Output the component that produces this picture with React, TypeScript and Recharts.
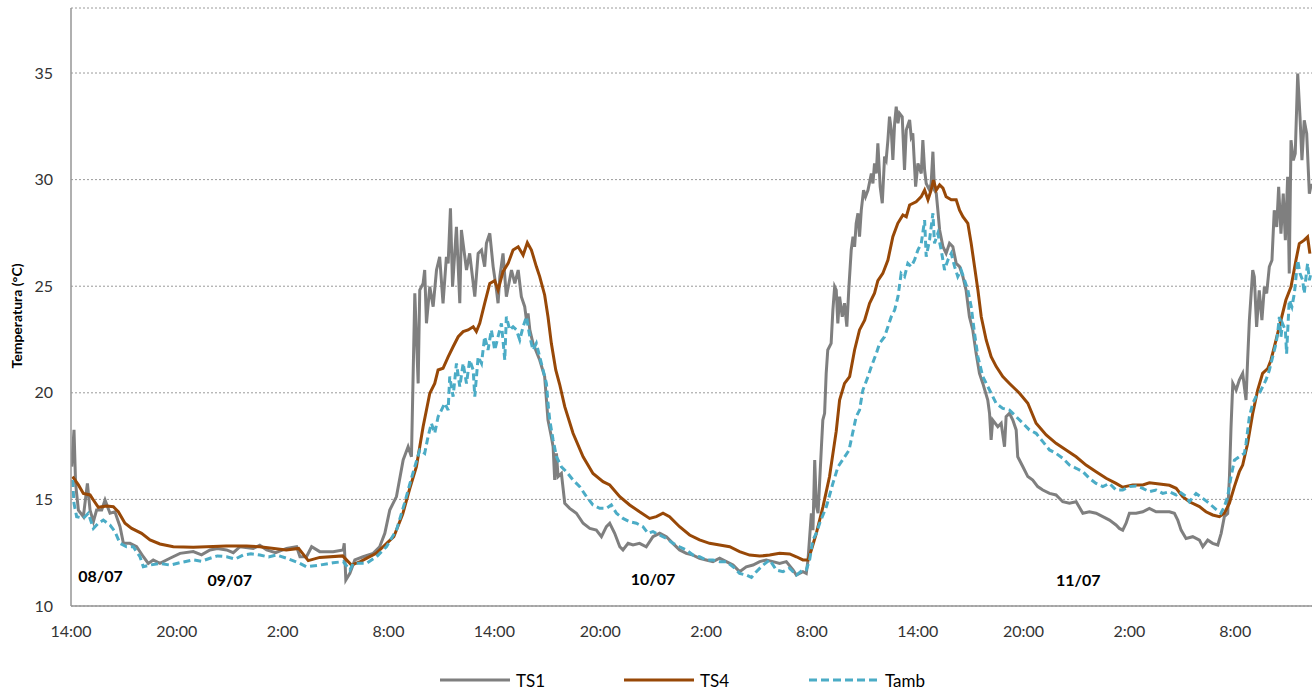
import { LineChart, Line, XAxis, YAxis, CartesianGrid, ReferenceDot } from 'recharts';

// hours counted from 14:00 on 08/07
const ts1Hours = [
  0.04, 0.17, 0.26, 0.42, 0.7, 0.93, 1.08, 1.27, 1.45, 1.74, 1.93, 2.21, 2.49, 2.78, 2.97, 3.34, 3.72, 4.1, 4.38, 4.66,
  5.04, 5.61, 6.18, 6.93, 7.4, 7.88, 8.3, 8.82, 9.2, 9.58, 10.33, 10.7, 11.09, 11.6, 12.22, 12.79, 12.98, 13.35, 13.64, 14.1,
  14.86, 15.43, 15.49, 15.58, 15.81, 16.09, 16.56, 17.13, 17.5, 17.79, 18.07, 18.45, 18.83, 19.11, 19.3, 19.49, 19.68, 19.77, 19.96, 20.05,
  20.15, 20.34, 20.53, 20.72, 20.9, 21.09, 21.28, 21.38, 21.51, 21.63, 21.85, 22.04, 22.13, 22.42, 22.6, 22.89, 23.08, 23.27, 23.45, 23.55,
  23.74, 23.93, 24.12, 24.21, 24.31, 24.49, 24.68, 24.97, 25.16, 25.35, 25.53, 25.72, 25.82, 25.91, 26.01, 26.19, 26.57, 26.85, 27.04, 27.23,
  27.33, 27.42, 27.52, 27.61, 27.8, 27.99, 28.27, 28.65, 29.03, 29.41, 29.78, 30.07, 30.35, 30.54, 30.82, 31.11, 31.29, 31.58, 31.86, 32.23,
  32.61, 32.99, 33.37, 33.75, 34.12, 34.5, 34.88, 35.26, 35.63, 36.01, 36.39, 36.77, 37.15, 37.53, 37.9, 38.28, 38.66, 39.04, 39.41, 39.79,
  40.17, 40.55, 40.93, 41.12, 41.49, 41.68, 41.78, 41.97, 42.06, 42.16, 42.25, 42.35, 42.54, 42.62, 42.72, 42.81, 42.9, 43.09, 43.19, 43.29,
  43.38, 43.47, 43.57, 43.72, 43.85, 43.98, 44.1, 44.23, 44.33, 44.42, 44.51, 44.61, 44.7, 44.8, 44.93, 45.04, 45.18, 45.37, 45.46, 45.55,
  45.65, 45.74, 45.87, 45.99, 46.12, 46.21, 46.31, 46.4, 46.5, 46.59, 46.69, 46.78, 46.88, 46.97, 47.12, 47.25, 47.35, 47.54, 47.63, 47.72,
  47.88, 48.01, 48.2, 48.29, 48.39, 48.48, 48.67, 48.76, 48.86, 48.95, 49.05, 49.14, 49.24, 49.43, 49.61, 49.8, 49.99, 50.18, 50.37, 50.56,
  50.74, 50.93, 51.12, 51.31, 51.5, 51.69, 51.97, 52.07, 52.16, 52.25, 52.54, 52.73, 52.92, 53.01, 53.2, 53.39, 53.58, 53.67, 53.96, 54.24,
  54.52, 54.8, 55.09, 55.47, 55.84, 56.22, 56.6, 56.98, 57.36, 57.73, 58.11, 58.49, 58.87, 59.24, 59.43, 59.62, 59.81, 60.0, 60.38, 60.76,
  61.13, 61.51, 61.89, 62.27, 62.55, 62.74, 62.93, 63.21, 63.59, 63.97, 64.16, 64.44, 64.72, 65.01, 65.2, 65.38, 65.57, 65.67, 65.76, 65.86,
  66.05, 66.23, 66.42, 66.61, 66.7, 66.8, 66.99, 67.08, 67.21, 67.36, 67.51, 67.65, 67.78, 67.93, 68.08, 68.21, 68.35, 68.46, 68.59, 68.72,
  68.84, 68.97, 69.06, 69.16, 69.29, 69.4, 69.54, 69.67, 69.78, 69.91, 70.05, 70.2, 70.31,
];
const ts1Temp = [
  16.54, 18.26, 15.75, 14.5, 14.19, 15.75, 14.5, 13.96, 14.5, 14.5, 14.97, 14.35, 14.42, 13.72, 12.94, 12.94, 12.78, 12.31, 12.0, 12.16,
  12.0, 12.24, 12.47, 12.55, 12.4, 12.63, 12.7, 12.63, 12.5, 12.78, 12.7, 12.85, 12.63, 12.5, 12.7, 12.78, 12.31, 12.31, 12.78, 12.55,
  12.55, 12.63, 12.94, 11.22, 11.53, 12.16, 12.31, 12.47, 12.78, 13.41, 14.5, 15.13, 16.85, 17.47, 17.0, 24.67, 20.44, 24.82, 25.13, 25.76,
  23.26, 24.98, 24.04, 25.76, 26.38, 24.2, 26.38, 26.07, 28.65, 24.98, 27.79, 24.2, 27.64, 25.76, 26.54, 24.51, 26.54, 26.7, 25.92, 27.01,
  27.48, 25.92, 24.82, 24.2, 25.45, 26.54, 24.51, 25.76, 25.13, 25.76, 24.51, 24.04, 23.41, 23.73, 22.95, 22.32, 21.54, 20.76, 18.72, 17.94,
  17.47, 15.91, 17.16, 16.07, 16.22, 14.82, 14.58, 14.35, 13.88, 13.64, 13.56, 13.25, 13.72, 13.88, 13.41, 12.78, 12.63, 12.94, 12.86, 12.94,
  12.78, 13.25, 13.41, 13.25, 12.94, 12.63, 12.47, 12.39, 12.24, 12.16, 12.08, 12.24, 12.08, 11.92, 11.61, 11.84, 11.92, 12.08, 12.16, 12.08,
  12.0, 12.08, 11.69, 11.45, 11.61, 11.53, 12.16, 14.35, 13.56, 16.85, 14.7, 14.35, 17.47, 18.72, 19.04, 20.91, 22.01, 22.32, 23.88, 24.98,
  24.82, 23.26, 24.51, 23.57, 24.2, 23.1, 24.98, 26.7, 27.32, 26.85, 27.95, 28.42, 27.32, 28.57, 29.51, 29.2, 29.51, 30.29, 29.82, 30.76,
  30.29, 31.7, 29.67, 28.89, 31.08, 30.92, 31.86, 32.95, 32.33, 30.92, 32.64, 33.42, 32.64, 33.11, 32.95, 30.45, 32.33, 32.8, 32.01, 32.17,
  29.67, 30.76, 30.29, 31.86, 30.45, 29.82, 29.51, 29.82, 31.31, 29.51, 29.36, 28.57, 27.64, 26.85, 26.54, 27.01, 26.85, 26.07, 25.92, 25.45,
  24.82, 23.57, 22.95, 21.85, 20.91, 20.44, 19.66, 19.04, 17.79, 18.72, 18.41, 18.57, 17.47, 18.88, 19.04, 18.72, 18.26, 17.0, 16.53, 16.07,
  15.91, 15.6, 15.44, 15.28, 15.21, 14.89, 14.82, 14.89, 14.35, 14.42, 14.35, 14.19, 14.03, 13.8, 13.64, 13.56, 13.88, 14.35, 14.35, 14.42,
  14.58, 14.42, 14.42, 14.42, 14.35, 14.03, 13.56, 13.17, 13.25, 13.09, 12.78, 13.09, 12.94, 12.86, 13.41, 14.19, 14.34, 16.06, 18.4, 20.44,
  20.13, 20.6, 20.91, 19.66, 21.53, 23.41, 25.75, 25.44, 23.09, 24.81, 23.41, 24.97, 24.66, 25.91, 26.22, 28.56, 27.78, 29.66, 27.47, 29.34,
  27.16, 30.13, 25.6, 31.85, 30.91, 31.22, 34.97, 32.94, 30.91, 32.78, 32.16, 29.34, 29.81,
];

const ts4Hours = [
  0.09, 0.42, 0.7, 1.08, 1.27, 1.55, 2.02, 2.4, 2.68, 3.06, 3.44, 4.0, 4.48, 5.04, 5.8, 6.93, 8.8, 9.95, 10.7, 12.2,
  12.9, 13.45, 14.1, 15.4, 15.9, 16.4, 17.3, 18.3, 18.8, 19.2, 19.58, 19.77, 19.96, 20.15, 20.34, 20.62, 20.81, 21.09, 21.38, 21.66,
  21.95, 22.23, 22.51, 22.8, 22.98, 23.17, 23.45, 23.74, 24.02, 24.21, 24.49, 24.78, 25.06, 25.35, 25.63, 25.87, 26.1, 26.38, 26.57, 26.85,
  27.04, 27.23, 27.48, 27.7, 27.99, 28.46, 29.03, 29.59, 30.16, 30.54, 31.11, 31.67, 32.23, 32.8, 33.18, 33.56, 33.93, 34.5, 35.07, 35.63,
  36.2, 36.77, 37.34, 37.9, 38.47, 39.04, 39.61, 40.17, 40.74, 41.12, 41.49, 41.78, 41.97, 42.25, 42.63, 43.0, 43.38, 43.57, 43.85, 44.14,
  44.42, 44.7, 44.99, 45.27, 45.55, 45.74, 46.02, 46.31, 46.59, 46.87, 47.16, 47.35, 47.54, 47.91, 48.2, 48.39, 48.58, 48.76, 48.89, 49.05,
  49.24, 49.43, 49.61, 49.9, 50.18, 50.37, 50.56, 50.84, 51.03, 51.22, 51.41, 51.6, 51.88, 52.16, 52.45, 52.82, 53.2, 53.77, 54.24, 54.71,
  55.28, 55.84, 56.41, 56.98, 57.54, 58.11, 58.68, 59.24, 59.62, 60.19, 60.76, 61.13, 61.7, 62.27, 62.65, 63.02, 63.4, 63.97, 64.34, 64.72,
  65.1, 65.38, 65.67, 65.95, 66.23, 66.42, 66.7, 66.99, 67.27, 67.55, 67.84, 68.02, 68.31, 68.59, 68.87, 69.16, 69.44, 69.63, 69.91, 70.1,
  70.23,
];
const ts4Temp = [
  16.07, 15.68, 15.28, 15.21, 14.97, 14.63, 14.69, 14.66, 14.42, 13.88, 13.64, 13.41, 13.1, 12.91, 12.78, 12.75, 12.81, 12.81, 12.78, 12.63,
  12.7, 12.13, 12.28, 12.35, 11.92, 12.08, 12.47, 13.25, 14.3, 15.5, 16.54, 17.47, 18.41, 19.19, 19.98, 20.44, 21.07, 21.15, 21.69, 22.16,
  22.63, 22.87, 22.95, 23.1, 22.87, 23.26, 24.2, 25.13, 25.26, 24.82, 25.68, 26.07, 26.7, 26.85, 26.46, 27.04, 26.7, 25.92, 25.45, 24.59,
  23.57, 22.32, 21.07, 20.4, 19.35, 18.1, 17.0, 16.22, 15.83, 15.68, 15.13, 14.74, 14.42, 14.11, 14.19, 14.35, 14.19, 13.72, 13.33, 13.1,
  12.94, 12.86, 12.78, 12.55, 12.39, 12.34, 12.39, 12.47, 12.44, 12.31, 12.16, 12.16, 12.63, 13.41, 14.66, 16.07, 18.2, 19.66, 20.44, 20.76,
  22.01, 22.95, 23.41, 24.2, 24.67, 25.26, 25.6, 26.23, 27.32, 27.95, 28.34, 28.26, 28.81, 28.96, 29.2, 29.51, 29.05, 29.51, 29.98, 29.51,
  29.75, 29.6, 29.2, 29.05, 29.05, 28.57, 28.26, 27.95, 27.01, 25.92, 24.82, 23.57, 22.48, 21.69, 21.23, 20.76, 20.44, 19.98, 19.51, 18.57,
  18.02, 17.63, 17.32, 17.0, 16.61, 16.3, 15.99, 15.75, 15.57, 15.68, 15.68, 15.78, 15.72, 15.66, 15.52, 15.13, 14.89, 14.66, 14.42, 14.27,
  14.19, 14.35, 14.82, 15.6, 16.3, 16.61, 17.62, 19.03, 20.13, 20.91, 21.14, 21.53, 22.47, 23.41, 24.35, 24.97, 26.22, 27.0, 27.16, 27.31,
  26.53,
];

const tambHours = [
  0.09, 0.17, 0.32, 0.7, 0.98, 1.27, 1.55, 1.83, 2.21, 2.49, 2.78, 3.15, 3.53, 3.91, 4.1, 4.48, 5.04, 5.61, 6.18, 6.93,
  7.4, 7.88, 8.3, 8.82, 9.3, 9.76, 10.2, 10.71, 11.2, 11.65, 12.22, 12.97, 13.35, 14.1, 14.86, 15.43, 15.81, 16.0, 16.75, 17.32,
  17.88, 18.45, 18.9, 19.2, 19.49, 19.77, 20.05, 20.24, 20.43, 20.62, 20.81, 21.0, 21.19, 21.38, 21.47, 21.66, 21.85, 22.04, 22.23, 22.42,
  22.6, 22.8, 22.89, 23.08, 23.27, 23.45, 23.64, 23.83, 24.02, 24.21, 24.4, 24.59, 24.68, 24.87, 25.06, 25.25, 25.44, 25.63, 25.82, 26.01,
  26.19, 26.38, 26.57, 26.76, 26.95, 27.04, 27.14, 27.33, 27.52, 27.8, 28.08, 28.46, 28.84, 29.22, 29.59, 29.97, 30.35, 30.63, 30.92, 31.29,
  31.67, 32.05, 32.42, 32.71, 32.99, 33.37, 33.75, 34.12, 34.5, 34.88, 35.26, 35.63, 36.01, 36.39, 36.77, 37.15, 37.53, 37.9, 38.28, 38.57,
  38.85, 39.23, 39.61, 39.98, 40.36, 40.74, 41.12, 41.49, 41.68, 41.87, 42.06, 42.25, 42.44, 42.82, 43.19, 43.48, 44.1, 44.51, 44.7, 44.89,
  45.18, 45.37, 45.65, 45.84, 46.12, 46.31, 46.5, 46.69, 46.88, 47.06, 47.25, 47.44, 47.63, 47.82, 48.01, 48.2, 48.39, 48.48, 48.67, 48.86,
  48.95, 49.14, 49.33, 49.52, 49.71, 49.9, 50.09, 50.27, 50.46, 50.65, 50.84, 51.03, 51.22, 51.41, 51.69, 52.07, 52.45, 52.82, 53.2, 53.58,
  53.96, 54.33, 54.71, 55.09, 55.47, 55.84, 56.22, 56.6, 56.98, 57.36, 57.73, 58.11, 58.49, 58.87, 59.24, 59.62, 60.0, 60.38, 60.76, 61.13,
  61.51, 61.89, 62.27, 62.65, 62.83, 63.21, 63.4, 63.78, 64.16, 64.53, 64.91, 65.19, 65.38, 65.57, 65.76, 65.95, 66.23, 66.52, 66.61, 66.8,
  66.99, 67.17, 67.36, 67.55, 67.74, 67.93, 68.12, 68.31, 68.4, 68.5, 68.59, 68.68, 68.84, 68.91, 69.06, 69.21, 69.35, 69.54, 69.67, 69.82,
  69.91, 70.01, 70.1, 70.2, 70.29,
];
const tambTemp = [
  15.91, 14.82, 14.19, 14.11, 14.35, 13.64, 13.88, 14.03, 13.8, 13.49, 12.94, 12.78, 12.78, 12.31, 11.84, 11.92, 12.0, 11.92, 12.03, 12.16,
  12.1, 12.24, 12.35, 12.31, 12.2, 12.39, 12.45, 12.39, 12.3, 12.39, 12.24, 12.0, 11.84, 11.92, 12.03, 12.08, 11.69, 12.0, 12.0, 12.31,
  12.78, 13.56, 14.8, 15.7, 16.54, 17.32, 17.16, 17.94, 18.57, 18.1, 18.88, 19.19, 19.51, 19.19, 20.76, 19.82, 21.38, 20.29, 21.38, 20.44,
  21.54, 21.07, 19.82, 21.69, 21.38, 22.63, 22.01, 22.95, 22.01, 22.63, 23.26, 21.54, 23.57, 22.95, 23.1, 22.95, 22.48, 23.1, 23.57, 22.63,
  22.01, 22.32, 21.69, 21.07, 20.44, 19.51, 18.72, 17.79, 17.0, 16.53, 16.3, 15.91, 15.6, 15.13, 14.74, 14.58, 14.58, 14.74, 14.35, 14.11,
  13.95, 13.88, 13.72, 13.41, 13.49, 13.33, 13.17, 12.94, 12.78, 12.63, 12.39, 12.31, 12.16, 12.16, 12.08, 12.08, 11.84, 11.53, 11.45, 11.34,
  11.61, 11.92, 12.16, 11.69, 11.61, 11.77, 11.45, 11.69, 11.69, 12.16, 13.1, 13.41, 13.88, 14.66, 15.75, 16.53, 17.3, 18.88, 19.19, 20.13,
  20.76, 21.23, 21.85, 22.32, 22.63, 23.1, 23.57, 23.88, 24.51, 25.6, 25.45, 26.07, 25.92, 26.23, 26.7, 27.01, 28.1, 26.38, 27.17, 28.42,
  27.01, 27.48, 26.7, 25.76, 26.23, 26.54, 25.92, 25.45, 25.76, 25.29, 24.82, 24.04, 22.79, 21.69, 20.76, 20.13, 19.5, 19.27, 19.19, 18.88,
  18.57, 18.26, 18.1, 17.71, 17.32, 17.16, 16.93, 16.61, 16.46, 16.3, 15.99, 15.75, 15.6, 15.75, 15.44, 15.44, 15.6, 15.63, 15.52, 15.36,
  15.44, 15.28, 15.36, 15.21, 15.36, 15.14, 14.89, 15.28, 15.05, 14.81, 14.53, 14.35, 14.66, 15.14, 16.06, 16.84, 17.0, 17.16, 17.62, 18.88,
  19.5, 19.81, 19.97, 20.28, 20.6, 21.06, 21.69, 22.31, 22.78, 23.56, 22.63, 23.25, 22.94, 21.84, 24.35, 24.03, 24.66, 26.22, 25.6, 25.28,
  24.66, 25.44, 26.06, 25.28, 25.6,
];

const hourTicks = [0, 6, 12, 18, 24, 30, 36, 42, 48, 54, 60, 66];
const hourLabels = ['14:00', '20:00', '2:00', '8:00', '14:00', '20:00', '2:00', '8:00', '14:00', '20:00', '2:00', '8:00'];
const tempTicks = [10, 15, 20, 25, 30, 35];

const dayLabels = ['08/07', '09/07', '10/07', '11/07'];
const dayLabelHours = [1.67, 9.0, 33.0, 57.1];
const dayLabelTemps = [11.4, 11.2, 11.25, 11.2];

const FONT = "Lato, 'Liberation Sans', sans-serif";
const TS1_COLOR = '#7f7f7f';
const TS4_COLOR = '#984807';
const TAMB_COLOR = '#4bacc6';

const toPoints = (hours: number[], temps: number[]) => hours.map((t, i) => ({ t, v: temps[i] }));

const ts1Data = toPoints(ts1Hours, ts1Temp);
const ts4Data = toPoints(ts4Hours, ts4Temp);
const tambData = toPoints(tambHours, tambTemp);

const legendItems = [
  { name: 'TS1', color: TS1_COLOR, dash: undefined, left: 440 },
  { name: 'TS4', color: TS4_COLOR, dash: undefined, left: 624 },
  { name: 'Tamb', color: TAMB_COLOR, dash: '8 4', left: 809 },
];

export default function App() {
  return (
    <div style={{ position: 'absolute', left: 0, top: 0, width: 1313, height: 693, background: '#fff', fontFamily: FONT }}>
      <LineChart width={1313} height={693} margin={{ top: 8, right: 1, bottom: 0, left: 0 }}>
        <CartesianGrid vertical={false} stroke="#9a9a9a" strokeDasharray="2 2" />
        <XAxis
          type="number"
          dataKey="t"
          domain={[0, 70.35]}
          allowDataOverflow
          ticks={hourTicks}
          tickFormatter={(h: number) => hourLabels[hourTicks.indexOf(h)]}
          height={87}
          tickSize={0}
          tickMargin={20}
          axisLine={{ stroke: '#969696', strokeWidth: 1.5 }}
          tick={{ fill: '#333', fontSize: 16, fontFamily: FONT }}
        />
        <YAxis
          type="number"
          domain={[10, 38.05]}
          allowDataOverflow
          ticks={tempTicks}
          width={71}
          tickSize={0}
          tickMargin={18}
          axisLine={{ stroke: '#969696', strokeWidth: 1.5 }}
          tick={{ fill: '#333', fontSize: 16, fontFamily: FONT }}
        />
        <Line data={ts1Data} dataKey="v" stroke={TS1_COLOR} strokeWidth={3} dot={false} isAnimationActive={false} />
        <Line data={ts4Data} dataKey="v" stroke={TS4_COLOR} strokeWidth={3} dot={false} isAnimationActive={false} />
        <Line
          data={tambData}
          dataKey="v"
          stroke={TAMB_COLOR}
          strokeWidth={3}
          strokeDasharray="7 4"
          dot={false}
          isAnimationActive={false}
        />
        {dayLabels.map((d, i) => (
          <ReferenceDot
            key={d}
            x={dayLabelHours[i]}
            y={dayLabelTemps[i]}
            r={0}
            fill="none"
            stroke="none"
            label={{ value: d, position: 'center', fill: '#000', fontSize: 16, fontWeight: 700, fontFamily: FONT }}
          />
        ))}
      </LineChart>
      <div
        style={{
          position: 'absolute',
          left: 16,
          top: 316,
          transform: 'translate(-50%, -50%) rotate(-90deg)',
          whiteSpace: 'nowrap',
          fontSize: 14,
          fontWeight: 700,
          color: '#000',
        }}
      >
        Temperatura (°C)
      </div>
      {legendItems.map((item) => (
        <div
          key={item.name}
          style={{ position: 'absolute', left: item.left, top: 669, height: 22, display: 'flex', alignItems: 'center' }}
        >
          <svg width={70} height={6} style={{ display: 'block' }}>
            <line x1={0} y1={3} x2={70} y2={3} stroke={item.color} strokeWidth={3} strokeDasharray={item.dash} />
          </svg>
          <span style={{ marginLeft: 6, fontSize: 17, color: '#000' }}>{item.name}</span>
        </div>
      ))}
    </div>
  );
}
